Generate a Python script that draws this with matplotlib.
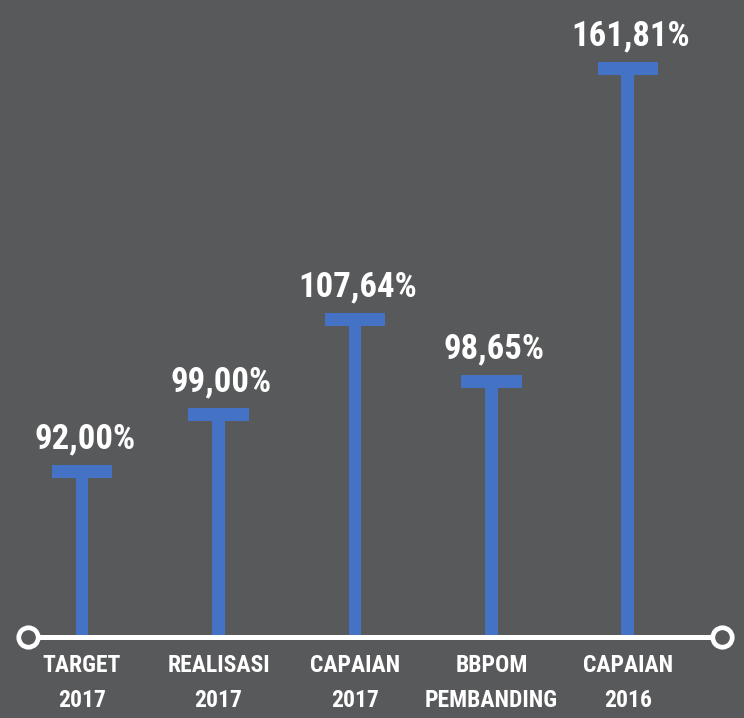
import matplotlib

matplotlib.use("Agg")
import matplotlib.pyplot as plt

categories = ["TARGET\n2017", "REALISASI\n2017", "CAPAIAN\n2017", "BBPOM\nPEMBANDING", "CAPAIAN\n2016"]
value_labels = ["92,00%", "99,00%", "107,64%", "98,65%", "161,81%"]
# drawn bar heights (the graphic is not to scale, so heights are read from the picture)
bar_heights = [172, 229, 324, 262, 575]

BG = "#58595b"
BLUE = "#4472c4"
FONT = ["Roboto Condensed", "DejaVu Sans"]

fig = plt.figure(figsize=(7.44, 7.18), dpi=100, facecolor=BG)
ax = fig.add_axes([0, 0, 1, 1], facecolor=BG)

x = list(range(len(categories)))
cap = 13
ax.bar(x, bar_heights, width=0.095, color=BLUE, zorder=2)
ax.bar(x, [cap] * len(x), bottom=[h - cap for h in bar_heights], width=0.44, color=BLUE, zorder=2)

for xi, h, lab in zip(x, bar_heights, value_labels):
    ax.annotate(lab, (xi, h), xytext=(2, 7), textcoords="offset points", ha="center", va="bottom",
                color="white", fontsize=25, fontweight="bold", fontstretch="condensed", family=FONT)

for xi, cat in zip(x, categories):
    ax.annotate(cat, (xi, 0), xytext=(0, -12), textcoords="offset points", ha="center", va="top",
                color="white", fontsize=17, fontweight="bold", fontstretch="condensed", family=FONT,
                linespacing=1.7)

# baseline with open circle ends
ax.plot([-0.396, 4.689], [0, 0], color="white", linewidth=3.6, zorder=3, solid_capstyle="butt")
ax.plot([-0.396, 4.689], [0, 0], linestyle="none", marker="o", markersize=14,
        markerfacecolor=BG, markeredgecolor="white", markeredgewidth=3.4, zorder=4)

ax.set_xlim(-0.6007, 4.85)
ax.set_ylim(-81, 637)
ax.axis("off")

fig.savefig("out.png", dpi=100, facecolor=BG)
